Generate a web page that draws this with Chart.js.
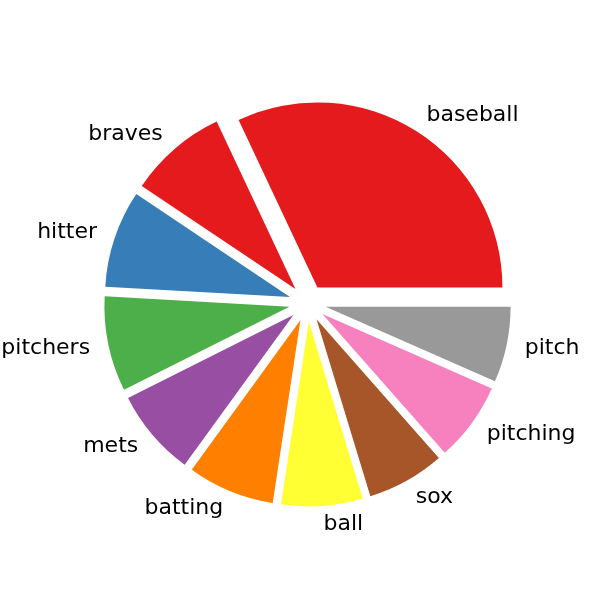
<!DOCTYPE html>
<html>
<head>
<meta charset="utf-8">
<script src="https://cdn.jsdelivr.net/npm/chart.js@4"></script>
<style>
html,body{margin:0;padding:0;background:#fff;}
#wrap{width:600px;height:600px;}
</style>
</head>
<body>
<div id="wrap"><canvas id="c" width="600" height="600"></canvas></div>
<script>
// Data in matplotlib order (counter-clockwise from 3 o'clock)
const categories = ["baseball","braves","hitter","pitchers","mets","batting","ball","sox","pitching","pitch"];
const counts = [320, 86, 85, 83, 76, 76, 71, 68, 69, 66];
const sliceColors = ["#e41a1c","#e41a1c","#377eb8","#4daf4a","#984ea3","#ff7f00","#ffff33","#a65628","#f781bf","#999999"];
const explodeFrac = [0.1, 0.1, 0.1, 0.1, 0.1, 0.1, 0.1, 0.1, 0.1, 0.1];

const R = 185;

// Chart.js draws clockwise; reverse so the order runs counter-clockwise
const labelsCJ = categories.slice().reverse();
const dataCJ = counts.slice().reverse();
const colorsCJ = sliceColors.slice().reverse();
const explodeCJ = explodeFrac.slice().reverse();

// Exploded slices: translate each arc along its mid-angle (like matplotlib explode)
const explodePlugin = {
  id: 'mplExplode',
  beforeDatasetDraw(chart, args) {
    const ctx = chart.ctx;
    const meta = args.meta;
    meta.data.forEach((arc, i) => {
      const p = arc.getProps(['startAngle','endAngle','outerRadius'], true);
      const mid = (p.startAngle + p.endAngle) / 2;
      const e = explodeCJ[i] * p.outerRadius;
      ctx.save();
      ctx.translate(Math.cos(mid) * e, Math.sin(mid) * e);
      arc.draw(ctx);
      ctx.restore();
    });
    return false;
  }
};

const labelPlugin = {
  id: 'mplLabels',
  afterDatasetsDraw(chart) {
    const ctx = chart.ctx;
    const meta = chart.getDatasetMeta(0);
    ctx.save();
    ctx.font = '22px "DejaVu Sans"';
    ctx.fillStyle = '#000';
    ctx.textBaseline = 'middle';
    meta.data.forEach((arc, i) => {
      const p = arc.getProps(['x','y','startAngle','endAngle','outerRadius'], true);
      const mid = (p.startAngle + p.endAngle) / 2;
      const d = p.outerRadius * (1.1 + explodeCJ[i]);
      const x = p.x + Math.cos(mid) * d;
      const y = p.y + Math.sin(mid) * d;
      ctx.textAlign = Math.cos(mid) > 0 ? 'left' : 'right';
      ctx.fillText(chart.data.labels[i], x, y);
    });
    ctx.restore();
  }
};

new Chart(document.getElementById('c'), {
  type: 'pie',
  data: {
    labels: labelsCJ,
    datasets: [{
      data: dataCJ,
      backgroundColor: colorsCJ,
      borderWidth: 0,
      hoverOffset: 0
    }]
  },
  options: {
    responsive: false,
    animation: false,
    rotation: 90,
    radius: R,
    layout: { padding: { left: 15, right: 0, top: 6, bottom: 0 } },
    plugins: { legend: { display: false }, tooltip: { enabled: false } },
    events: []
  },
  plugins: [explodePlugin, labelPlugin]
});
</script>
</body>
</html>
